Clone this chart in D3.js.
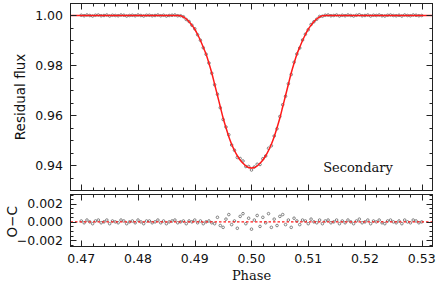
<!DOCTYPE html>
<html>
<head>
<meta charset="utf-8">
<script src="https://cdn.jsdelivr.net/npm/d3@7"></script>
<style>
  body { margin: 0; background: #fff; }
  svg { display: block; }
</style>
</head>
<body>
<div id="chart"></div>
<script>
// observed phases
var phase = [
  0.4700, 0.4705, 0.4710, 0.4715, 0.4720, 0.4725, 0.4730, 0.4735, 0.4740, 0.4745,
  0.4750, 0.4755, 0.4760, 0.4765, 0.4770, 0.4775, 0.4780, 0.4785, 0.4790, 0.4795,
  0.4800, 0.4805, 0.4810, 0.4815, 0.4820, 0.4825, 0.4830, 0.4835, 0.4840, 0.4845,
  0.4850, 0.4855, 0.4860, 0.4865, 0.4870, 0.4875, 0.4880, 0.4885, 0.4890, 0.4895,
  0.4900, 0.4905, 0.4910, 0.4915, 0.4920, 0.4925, 0.4930, 0.4935, 0.4940, 0.4945,
  0.4950, 0.4955, 0.4960, 0.4965, 0.4970, 0.4975, 0.4980, 0.4985, 0.4990, 0.4995,
  0.5000, 0.5005, 0.5010, 0.5015, 0.5020, 0.5025, 0.5030, 0.5035, 0.5040, 0.5045,
  0.5050, 0.5055, 0.5060, 0.5065, 0.5070, 0.5075, 0.5080, 0.5085, 0.5090, 0.5095,
  0.5100, 0.5105, 0.5110, 0.5115, 0.5120, 0.5125, 0.5130, 0.5135, 0.5140, 0.5145,
  0.5150, 0.5155, 0.5160, 0.5165, 0.5170, 0.5175, 0.5180, 0.5185, 0.5190, 0.5195,
  0.5200, 0.5205, 0.5210, 0.5215, 0.5220, 0.5225, 0.5230, 0.5235, 0.5240, 0.5245,
  0.5250, 0.5255, 0.5260, 0.5265, 0.5270, 0.5275, 0.5280, 0.5285, 0.5290, 0.5295,
  0.5300
];

// observed residual flux
var flux = [
  1.0001, 0.9999, 1.0002, 1.0000, 0.9998, 1.0001, 1.0002, 0.9999, 1.0000, 1.0002,
  0.9998, 1.0001, 1.0000, 0.9999, 1.0002, 1.0001, 0.9998, 1.0000, 1.0001, 0.9999,
  1.0002, 1.0000, 0.9998, 1.0001, 1.0001, 0.9999, 1.0000, 1.0002, 0.9999, 1.0001,
  0.9998, 1.0000, 1.0001, 1.0002, 0.9999, 0.9999, 0.9995, 0.9984, 0.9976, 0.9961,
  0.9947, 0.9923, 0.9901, 0.9871, 0.9845, 0.9810, 0.9769, 0.9723, 0.9685, 0.9631,
  0.9584, 0.9554, 0.9523, 0.9482, 0.9461, 0.9432, 0.9428, 0.9418, 0.9396, 0.9396,
  0.9382, 0.9394, 0.9405, 0.9404, 0.9427, 0.9438, 0.9469, 0.9479, 0.9518, 0.9547,
  0.9596, 0.9643, 0.9677, 0.9727, 0.9764, 0.9813, 0.9846, 0.9870, 0.9902, 0.9925,
  0.9943, 0.9964, 0.9975, 0.9985, 0.9996, 0.9997, 1.0001, 1.0002, 0.9999, 1.0000,
  1.0002, 0.9998, 1.0001, 0.9999, 1.0002, 1.0000, 0.9998, 1.0001, 1.0003, 0.9999,
  1.0000, 1.0002, 0.9998, 1.0001, 1.0000, 1.0002, 0.9999, 0.9998, 1.0001, 1.0002,
  1.0000, 0.9999, 1.0001, 0.9998, 1.0002, 1.0000, 0.9999, 1.0002, 1.0001, 0.9999,
  1.0000
];

// observed minus computed
var oc = [
  0.0001, -0.0001, 0.0002, 0.0000, -0.0002, 0.0001, 0.0002, -0.0001, 0.0000, 0.0002,
  -0.0002, 0.0001, 0.0000, -0.0001, 0.0002, 0.0001, -0.0002, 0.0000, 0.0001, -0.0001,
  0.0002, 0.0000, -0.0002, 0.0001, 0.0001, -0.0001, 0.0000, 0.0002, -0.0001, 0.0001,
  -0.0002, 0.0000, 0.0001, 0.0002, -0.0001, 0.0000, 0.0001, -0.0002, 0.0001, 0.0000,
  0.0002, -0.0001, 0.0001, -0.0002, 0.0000, 0.0001, -0.0001, -0.0002, 0.0005, -0.0004,
  -0.0006, 0.0003, 0.0008, -0.0003, 0.0001, -0.0007, 0.0006, 0.0009, -0.0002, 0.0004,
  -0.0008, 0.0002, 0.0007, -0.0005, 0.0005, -0.0001, 0.0009, -0.0006, 0.0003, -0.0004,
  0.0006, 0.0008, -0.0003, 0.0002, -0.0006, 0.0004, 0.0001, -0.0003, 0.0002, 0.0001,
  -0.0002, 0.0003, 0.0000, -0.0001, 0.0002, -0.0002, 0.0001, 0.0002, -0.0001, 0.0000,
  0.0002, -0.0002, 0.0001, -0.0001, 0.0002, 0.0000, -0.0002, 0.0001, 0.0003, -0.0001,
  0.0000, 0.0002, -0.0002, 0.0001, 0.0000, 0.0002, -0.0001, -0.0002, 0.0001, 0.0002,
  0.0000, -0.0001, 0.0001, -0.0002, 0.0002, 0.0000, -0.0001, 0.0002, 0.0001, -0.0001,
  0.0000
];

// model light curve
var modelPhase = [
  0.4681, 0.4870, 0.4875, 0.4880, 0.4885, 0.4890, 0.4895, 0.4900, 0.4905, 0.4910,
  0.4915, 0.4920, 0.4925, 0.4930, 0.4935, 0.4940, 0.4945, 0.4950, 0.4955, 0.4960,
  0.4965, 0.4970, 0.4975, 0.4980, 0.4985, 0.4990, 0.4995, 0.5000, 0.5005, 0.5010,
  0.5015, 0.5020, 0.5025, 0.5030, 0.5035, 0.5040, 0.5045, 0.5050, 0.5055, 0.5060,
  0.5065, 0.5070, 0.5075, 0.5080, 0.5085, 0.5090, 0.5095, 0.5100, 0.5105, 0.5110,
  0.5115, 0.5120, 0.5125, 0.5130, 0.5319
];
var modelFlux = [
  1.0000, 1.0000, 0.9999, 0.9994, 0.9986, 0.9975, 0.9961, 0.9945, 0.9924, 0.9900,
  0.9873, 0.9845, 0.9809, 0.9770, 0.9725, 0.9680, 0.9635, 0.9590, 0.9551, 0.9515,
  0.9485, 0.9460, 0.9439, 0.9422, 0.9409, 0.9398, 0.9392, 0.9390, 0.9392, 0.9398,
  0.9409, 0.9422, 0.9439, 0.9460, 0.9485, 0.9515, 0.9551, 0.9590, 0.9635, 0.9680,
  0.9725, 0.9770, 0.9809, 0.9845, 0.9873, 0.9900, 0.9924, 0.9945, 0.9961, 0.9975,
  0.9986, 0.9994, 0.9999, 1.0000, 1.0000
];

var xTicks = [0.47, 0.48, 0.49, 0.50, 0.51, 0.52, 0.53];
var yTopTicks = [0.94, 0.96, 0.98, 1.00];
var yBotTicks = [-0.002, 0.000, 0.002];

var W = 436, H = 282;
var left = 70.5, right = 432.5;
var topPanel = { top: 3.5, bottom: 190.5 };
var botPanel = { top: 194.5, bottom: 246.5 };

var svg = d3.select("#chart").append("svg")
  .attr("width", W).attr("height", H);

var x = d3.scaleLinear().domain([0.4681, 0.5319]).range([left, right]);
var yTop = d3.scaleLinear().domain([0.93, 1.0048]).range([topPanel.bottom, topPanel.top]);
var yBot = d3.scaleLinear().domain([-0.0027, 0.003]).range([botPanel.bottom, botPanel.top]);

var tickFont = "'DejaVu Sans', sans-serif";
var serifFont = "'DejaVu Serif', serif";
var ink = "#111";

function frame(p, yScale, yMinor, yMajor, yFmt, showX) {
  var g = svg.append("g");
  // x ticks, top and bottom, pointing in
  var xMinor = d3.range(0.468, 0.5321, 0.002);
  xMinor.forEach(function (v) {
    var major = xTicks.some(function (t) { return Math.abs(t - v) < 1e-6; });
    var len = major ? 6 : 3;
    var xx = Math.round(x(v)) + 0.5;
    if (xx < left || xx > right) return;
    g.append("line").attr("x1", xx).attr("x2", xx)
      .attr("y1", p.top).attr("y2", p.top + len);
    g.append("line").attr("x1", xx).attr("x2", xx)
      .attr("y1", p.bottom).attr("y2", p.bottom - len);
  });
  yMinor.forEach(function (v) {
    var major = yMajor.some(function (t) { return Math.abs(t - v) < 1e-7; });
    var len = major ? 6 : 3;
    var yy = Math.round(yScale(v)) + 0.5;
    if (yy < p.top || yy > p.bottom) return;
    g.append("line").attr("x1", left).attr("x2", left + len)
      .attr("y1", yy).attr("y2", yy);
    g.append("line").attr("x1", right).attr("x2", right - len)
      .attr("y1", yy).attr("y2", yy);
  });
  g.append("rect")
    .attr("x", left).attr("y", p.top)
    .attr("width", right - left).attr("height", p.bottom - p.top)
    .attr("fill", "none");
  g.selectAll("line,rect").attr("stroke", "#222").attr("stroke-width", 1);

  // y labels
  g.selectAll("text.yl").data(yMajor).enter().append("text")
    .attr("x", 63).attr("y", function (d) { return yScale(d) + 4.5; })
    .attr("text-anchor", "end")
    .style("font-family", tickFont).style("font-size", "12.5px")
    .attr("fill", ink)
    .text(yFmt);

  if (showX) {
    g.selectAll("text.xl").data(xTicks).enter().append("text")
      .attr("x", function (d) { return x(d); })
      .attr("y", p.bottom + 16)
      .attr("text-anchor", "middle")
      .style("font-family", tickFont).style("font-size", "12.5px")
      .attr("fill", ink)
      .text(d3.format(".2f"));
  }
}

// top panel: data points then model
svg.append("clipPath").attr("id", "clipTop").append("rect")
  .attr("x", left).attr("y", topPanel.top)
  .attr("width", right - left).attr("height", topPanel.bottom - topPanel.top);

var gTop = svg.append("g").attr("clip-path", "url(#clipTop)");
gTop.selectAll("circle").data(phase).enter().append("circle")
  .attr("cx", function (d) { return x(d); })
  .attr("cy", function (d, i) { return yTop(flux[i]); })
  .attr("r", 1.3)
  .attr("fill", "none")
  .attr("stroke", "#666")
  .attr("stroke-width", 0.8);

var line = d3.line()
  .x(function (d) { return x(d); })
  .y(function (d, i) { return yTop(modelFlux[i]); })
  .curve(d3.curveMonotoneX);

gTop.append("path").datum(modelPhase)
  .attr("d", line)
  .attr("fill", "none")
  .attr("stroke", "#ff1a1a")
  .attr("stroke-width", 1.5);

// bottom panel: residuals
var gBot = svg.append("g");
gBot.selectAll("circle").data(phase).enter().append("circle")
  .attr("cx", function (d) { return x(d); })
  .attr("cy", function (d, i) { return yBot(oc[i]); })
  .attr("r", 1.3)
  .attr("fill", "none")
  .attr("stroke", "#666")
  .attr("stroke-width", 0.8);

gBot.append("line")
  .attr("x1", left).attr("x2", right)
  .attr("y1", yBot(0)).attr("y2", yBot(0))
  .attr("stroke", "#ff1a1a")
  .attr("stroke-width", 1.3)
  .attr("stroke-dasharray", "2.5,2");

frame(topPanel, yTop, d3.range(0.93, 1.0049, 0.005), yTopTicks, d3.format(".2f"), false);
frame(botPanel, yBot, d3.range(-0.0025, 0.00301, 0.0005), yBotTicks,
  function (d) { return d3.format(".3f")(d).replace("-", "\u2212"); }, true);

// labels
svg.append("text")
  .attr("transform", "translate(25," + ((topPanel.top + topPanel.bottom) / 2) + ") rotate(-90)")
  .attr("text-anchor", "middle")
  .style("font-family", tickFont).style("font-size", "13.5px")
  .attr("fill", ink)
  .text("Residual flux");

svg.append("text")
  .attr("transform", "translate(17," + yBot(0) + ") rotate(-90)")
  .attr("text-anchor", "middle")
  .style("font-family", tickFont).style("font-size", "13.5px")
  .attr("fill", ink)
  .text("O\u2212C");

svg.append("text")
  .attr("x", (left + right) / 2).attr("y", 279.5)
  .attr("text-anchor", "middle")
  .style("font-family", serifFont).style("font-size", "13px")
  .attr("fill", ink)
  .text("Phase");

svg.append("text")
  .attr("x", 358).attr("y", 172)
  .attr("text-anchor", "middle")
  .style("font-family", serifFont).style("font-size", "13px")
  .attr("fill", ink)
  .text("Secondary");
</script>
</body>
</html>
